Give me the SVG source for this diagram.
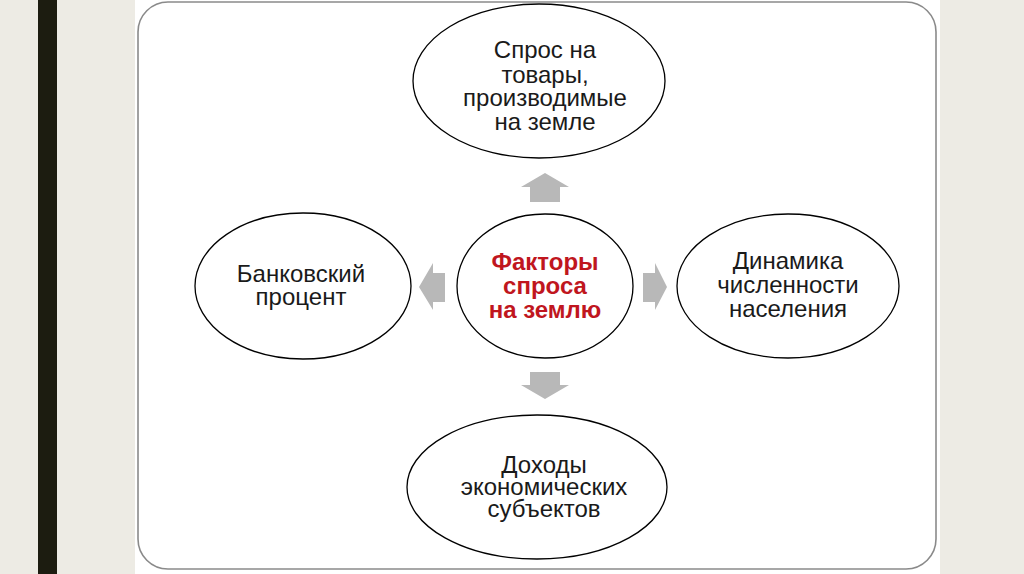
<svg xmlns="http://www.w3.org/2000/svg" width="1024" height="574" viewBox="0 0 1024 574">
<style>
.node ellipse{fill:#fff;stroke:#000;stroke-width:1.3}
.t{font-family:"Liberation Sans",Arial,sans-serif;font-size:24px;fill:#1a1a1a;text-anchor:middle}
.c{font-family:"Liberation Sans",Arial,sans-serif;font-size:24px;font-weight:bold;fill:#c0161e;text-anchor:middle}
.arr{fill:#b8b8b8}
</style>
<rect x="0" y="0" width="1024" height="574" fill="#edebe4"/>
<rect x="38" y="0" width="19" height="574" fill="#1c1c10"/>
<rect x="135" y="0" width="805" height="574" fill="#fff"/>
<rect x="138" y="2" width="798" height="567" rx="30" ry="30" fill="#fff" stroke="#8a8a8a" stroke-width="1.6"/>
<g id="connectors">
<polygon class="arr" points="530,202 530,187 521,187 545,173 569,187 560,187 560,202"/>
<polygon class="arr" points="530,372 530,385 521,385 545,399 569,385 560,385 560,372"/>
<polygon class="arr" points="445,273 433,273 433,263 419,287 433,310 433,302 445,302"/>
<polygon class="arr" points="643,273 655,273 655,263 667,287 655,310 655,302 643,302"/>
</g>
<g id="top" class="node">
<ellipse cx="539" cy="81" rx="126" ry="77"/>
<text class="t" x="545" y="58">Спрос на</text>
<text class="t" x="545" y="83">товары,</text>
<text class="t" x="545" y="106">производимые</text>
<text class="t" x="545" y="130">на земле</text>
</g>
<g id="center" class="node">
<ellipse cx="545" cy="286" rx="88" ry="72"/>
<text class="c" x="545" y="270">Факторы</text>
<text class="c" x="545" y="294">спроса</text>
<text class="c" x="545" y="318">на землю</text>
</g>
<g id="left" class="node">
<ellipse cx="303" cy="286" rx="108" ry="73"/>
<text class="t" x="301" y="282">Банковский</text>
<text class="t" x="301" y="305">процент</text>
</g>
<g id="right" class="node">
<ellipse cx="788" cy="286" rx="111" ry="72"/>
<text class="t" x="788" y="269">Динамика</text>
<text class="t" x="788" y="293">численности</text>
<text class="t" x="788" y="317">населения</text>
</g>
<g id="bottom" class="node">
<ellipse cx="537" cy="487" rx="130" ry="72"/>
<text class="t" x="544" y="473">Доходы</text>
<text class="t" x="544" y="495">экономических</text>
<text class="t" x="544" y="517">субъектов</text>
</g>
</svg>
